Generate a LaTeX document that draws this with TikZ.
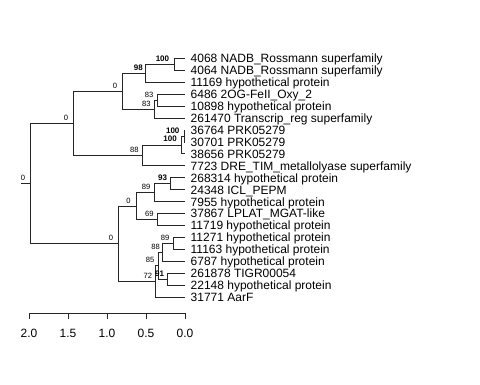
\documentclass[tikz,border=0pt]{standalone}
\usepackage{fontspec}
\setmainfont{Liberation Sans}
\tikzset{
  branch/.style={line width=0.9pt,black!85},
  leaf/.style={anchor=base west,inner sep=0pt,yshift=-4.3pt,font=\fontsize{12}{14}\selectfont},
  plab/.style={anchor=base east,inner sep=0pt,xshift=-3.5pt,yshift=3.1pt,font=\fontsize{7.6}{9}\selectfont},
  zlab/.style={plab,xshift=-1.8pt},
  blab/.style={plab,font=\fontsize{8}{9}\selectfont\bfseries},
}
\begin{document}
\begin{tikzpicture}[x=1pt,y=-1pt]
  \useasboundingbox (0,0) rectangle (480,384);
  % tips
  \coordinate (t4068) at (185,58.5);
  \coordinate (t4064) at (185,70.4);
  \coordinate (t11169) at (185,82.4);
  \coordinate (t6486) at (185,94.3);
  \coordinate (t10898) at (185,106.2);
  \coordinate (t261470) at (185,118.2);
  \coordinate (t36764) at (185,130.1);
  \coordinate (t30701) at (185,142.0);
  \coordinate (t38656) at (185,153.9);
  \coordinate (t7723) at (185,165.9);
  \coordinate (t268314) at (185,177.8);
  \coordinate (t24348) at (185,189.7);
  \coordinate (t7955) at (185,201.7);
  \coordinate (t37867) at (185,213.6);
  \coordinate (t11719) at (185,225.5);
  \coordinate (t11271) at (185,237.5);
  \coordinate (t11163) at (185,249.4);
  \coordinate (t6787) at (185,261.3);
  \coordinate (t261878) at (185,273.2);
  \coordinate (t22148) at (185,285.2);
  \coordinate (t31771) at (185,297.1);
  % inner nodes
  \coordinate (rossmann) at (174,64.5);
  \coordinate (nadb) at (145.5,73.4);
  \coordinate (oxy) at (157,100.3);
  \coordinate (transcrip) at (154.3,109.2);
  \coordinate (upperA) at (122.7,91.3);
  \coordinate (prkA) at (184.3,136.1);
  \coordinate (prkB) at (181.7,145.0);
  \coordinate (dre) at (142.3,155.4);
  \coordinate (upper) at (73.5,123.4);
  \coordinate (icl) at (170.7,183.8);
  \coordinate (hypA) at (154,192.7);
  \coordinate (lplat) at (157.3,219.6);
  \coordinate (lowerA) at (136,206.1);
  \coordinate (hypB) at (173,243.4);
  \coordinate (hypC) at (162.3,252.4);
  \coordinate (tigr) at (167.7,279.2);
  \coordinate (hypD) at (158,265.8);
  \coordinate (aarf) at (155.9,281.4);
  \coordinate (lower) at (118.7,243.8);
  \coordinate (root) at (30.7,183.6);
  \coordinate (stub) at (20.7,183.6);
  % branches
  \draw[branch] (stub) -- (root);
  \draw[branch] (root) |- (upper);
  \draw[branch] (root) |- (lower);
  \draw[branch] (upper) |- (upperA);
  \draw[branch] (upper) |- (dre);
  \draw[branch] (upperA) |- (nadb);
  \draw[branch] (upperA) |- (transcrip);
  \draw[branch] (nadb) |- (rossmann);
  \draw[branch] (nadb) |- (t11169);
  \draw[branch] (rossmann) |- (t4068);
  \draw[branch] (rossmann) |- (t4064);
  \draw[branch] (transcrip) |- (oxy);
  \draw[branch] (transcrip) |- (t261470);
  \draw[branch] (oxy) |- (t6486);
  \draw[branch] (oxy) |- (t10898);
  \draw[branch] (dre) |- (prkB);
  \draw[branch] (dre) |- (t7723);
  \draw[branch] (prkB) |- (prkA);
  \draw[branch] (prkB) |- (t38656);
  \draw[branch] (prkA) |- (t36764);
  \draw[branch] (prkA) |- (t30701);
  \draw[branch] (lower) |- (lowerA);
  \draw[branch] (lower) |- (aarf);
  \draw[branch] (lowerA) |- (hypA);
  \draw[branch] (lowerA) |- (lplat);
  \draw[branch] (hypA) |- (icl);
  \draw[branch] (hypA) |- (t7955);
  \draw[branch] (icl) |- (t268314);
  \draw[branch] (icl) |- (t24348);
  \draw[branch] (lplat) |- (t37867);
  \draw[branch] (lplat) |- (t11719);
  \draw[branch] (aarf) |- (hypD);
  \draw[branch] (aarf) |- (t31771);
  \draw[branch] (hypD) |- (hypC);
  \draw[branch] (hypD) |- (tigr);
  \draw[branch] (hypC) |- (hypB);
  \draw[branch] (hypC) |- (t6787);
  \draw[branch] (hypB) |- (t11271);
  \draw[branch] (hypB) |- (t11163);
  \draw[branch] (tigr) |- (t261878);
  \draw[branch] (tigr) |- (t22148);
  % support values
  \node[zlab] (sroot) at (root) {0};
  \node[zlab] (supper) at (upper) {0};
  \node[zlab] (supperA) at (upperA) {0};
  \node[blab,xshift=1pt] (snadb) at (nadb) {98};
  \node[blab,xshift=-1.2pt] (srossmann) at (rossmann) {100};
  \node[plab] (stranscrip) at (transcrip) {83};
  \node[plab] (soxy) at (oxy) {83};
  \node[plab] (sdre) at (dre) {88};
  \node[blab,xshift=-1.2pt] (sprkB) at (prkB) {100};
  \node[blab,xshift=-1.2pt] (sprkA) at (prkA) {100};
  \node[zlab] (slower) at (lower) {0};
  \node[zlab] (slowerA) at (lowerA) {0};
  \node[plab] (shypA) at (hypA) {89};
  \node[blab] (sicl) at (icl) {93};
  \node[plab] (slplat) at (lplat) {69};
  \node[plab] (saarf) at (aarf) {72};
  \node[plab] (shypD) at (hypD) {85};
  \node[plab,xshift=1.2pt] (shypC) at (hypC) {88};
  \node[plab] (shypB) at (hypB) {89};
  \node[blab] (stigr) at (tigr) {91};
  % tip labels
  \node[leaf] (l4068) at ([xshift=5.5pt]t4068) {4068 NADB\_Rossmann superfamily};
  \node[leaf] (l4064) at ([xshift=5.5pt]t4064) {4064 NADB\_Rossmann superfamily};
  \node[leaf] (l11169) at ([xshift=5.5pt]t11169) {11169 hypothetical protein};
  \node[leaf] (l6486) at ([xshift=5.5pt]t6486) {6486 2OG-FeII\_Oxy\_2};
  \node[leaf] (l10898) at ([xshift=5.5pt]t10898) {10898 hypothetical protein};
  \node[leaf] (l261470) at ([xshift=5.5pt]t261470) {261470 Transcrip\_reg superfamily};
  \node[leaf] (l36764) at ([xshift=5.5pt]t36764) {36764 PRK05279};
  \node[leaf] (l30701) at ([xshift=5.5pt]t30701) {30701 PRK05279};
  \node[leaf] (l38656) at ([xshift=5.5pt]t38656) {38656 PRK05279};
  \node[leaf] (l7723) at ([xshift=5.5pt]t7723) {7723 DRE\_TIM\_metallolyase superfamily};
  \node[leaf] (l268314) at ([xshift=5.5pt]t268314) {268314 hypothetical protein};
  \node[leaf] (l24348) at ([xshift=5.5pt]t24348) {24348 ICL\_PEPM};
  \node[leaf] (l7955) at ([xshift=5.5pt]t7955) {7955 hypothetical protein};
  \node[leaf] (l37867) at ([xshift=5.5pt]t37867) {37867 LPLAT\_MGAT-like};
  \node[leaf] (l11719) at ([xshift=5.5pt]t11719) {11719 hypothetical protein};
  \node[leaf] (l11271) at ([xshift=5.5pt]t11271) {11271 hypothetical protein};
  \node[leaf] (l11163) at ([xshift=5.5pt]t11163) {11163 hypothetical protein};
  \node[leaf] (l6787) at ([xshift=5.5pt]t6787) {6787 hypothetical protein};
  \node[leaf] (l261878) at ([xshift=5.5pt]t261878) {261878 TIGR00054};
  \node[leaf] (l22148) at ([xshift=5.5pt]t22148) {22148 hypothetical protein};
  \node[leaf] (l31771) at ([xshift=5.5pt]t31771) {31771 AarF};
  % scale axis
  \draw[branch] (29,313) -- (185,313);
  \foreach \x/\v in {29/2.0,68/1.5,107/1.0,146/0.5,185/0.0} {
    \draw[branch] (\x,313) -- (\x,319);
    \node[inner sep=0pt,font=\fontsize{12}{14}\selectfont] at (\x,333) {\v};
  }
\end{tikzpicture}
\end{document}
